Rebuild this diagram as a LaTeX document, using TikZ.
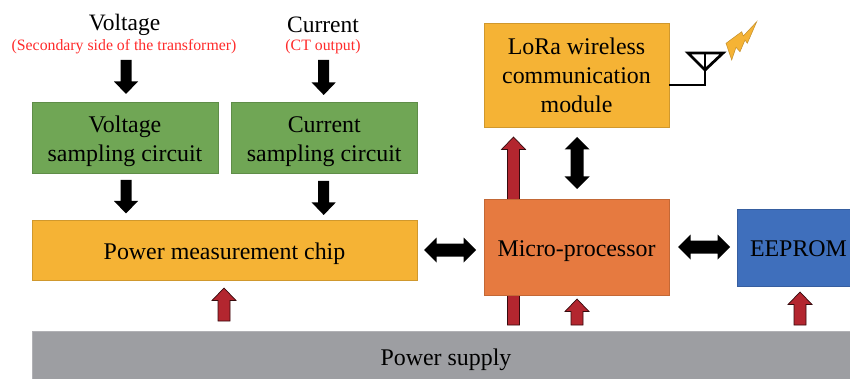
\documentclass[tikz,border=0pt]{standalone}
\usepackage{fontspec}
\setmainfont{Liberation Serif}
\usetikzlibrary{calc}
\definecolor{boxgreen}{HTML}{70A655}
\definecolor{boxgold}{HTML}{F5B335}
\definecolor{boxorange}{HTML}{E67A40}
\definecolor{boxblue}{HTML}{3F6FBC}
\definecolor{boxgrey}{HTML}{9D9EA2}
\definecolor{arrowred}{HTML}{B3262F}
\definecolor{redtext}{HTML}{FF2A2A}
\newcommand{\boxlines}[1]{\raisebox{-3.2pt}[\height][\depth]{\begin{tabular}{@{}c@{}}#1\end{tabular}}}
\tikzset{
  x=1pt,y=-1pt,
  blockbox/.style={draw=#1!85!black,line width=0.6pt,fill=#1,inner sep=0pt,align=center,text=black,
    font=\fontsize{23.9}{29}\selectfont},
  headline/.style={inner sep=0pt,font=\fontsize{23.5}{28}\selectfont},
  subline/.style={inner sep=0pt,text=redtext,font=\fontsize{15.8}{18}\selectfont},
  single block/.style n args={3}{to path={
    ($(\tikztostart)!#1!90:(\tikztotarget)$) --
    ($(\tikztotarget)!#3!(\tikztostart)!#1!-90:(\tikztostart)$) --
    ($(\tikztotarget)!#3!(\tikztostart)!#2!-90:(\tikztostart)$) --
    (\tikztotarget) --
    ($(\tikztotarget)!#3!(\tikztostart)!#2!90:(\tikztostart)$) --
    ($(\tikztotarget)!#3!(\tikztostart)!#1!90:(\tikztostart)$) --
    ($(\tikztostart)!#1!-90:(\tikztotarget)$) -- cycle}},
  double block/.style n args={3}{to path={
    (\tikztostart) --
    ($(\tikztostart)!#3!(\tikztotarget)!#2!90:(\tikztotarget)$) --
    ($(\tikztostart)!#3!(\tikztotarget)!#1!90:(\tikztotarget)$) --
    ($(\tikztotarget)!#3!(\tikztostart)!#1!-90:(\tikztostart)$) --
    ($(\tikztotarget)!#3!(\tikztostart)!#2!-90:(\tikztostart)$) --
    (\tikztotarget) --
    ($(\tikztotarget)!#3!(\tikztostart)!#2!90:(\tikztostart)$) --
    ($(\tikztotarget)!#3!(\tikztostart)!#1!90:(\tikztostart)$) --
    ($(\tikztostart)!#3!(\tikztotarget)!#1!-90:(\tikztotarget)$) --
    ($(\tikztostart)!#3!(\tikztotarget)!#2!-90:(\tikztotarget)$) -- cycle}},
  blackarrow/.style={fill=black,draw=none,single block={5.5pt}{12pt}{12.5pt}},
  blacktwin/.style={fill=black,draw=none,double block={6.5pt}{12.5pt}{12.5pt}},
  redarrow/.style={fill=arrowred,draw=black!70!arrowred,line width=0.7pt,line join=miter,single block={6pt}{12pt}{12.5pt}},
  wire/.style={draw=black,line width=2.8pt}
}
\begin{document}
\begin{tikzpicture}
\useasboundingbox (0,0) rectangle (850,379);
\clip (0,0) rectangle (850,379);
\fill[white] (0,0) rectangle (850,379);
% long power arrow passes behind the processor
\coordinate (loraFeedStart) at (513.5,325);
\coordinate (loraFeedEnd) at (513.5,137);
\draw[redarrow] (loraFeedStart) to (loraFeedEnd);
% boxes
\node[blockbox=boxgreen,minimum width=186pt,minimum height=71pt] (vs) at (125,138) {\boxlines{Voltage\\sampling circuit}};
\node[blockbox=boxgreen,minimum width=185.5pt,minimum height=71pt] (cs) at (324.25,138) {\boxlines{Current\\sampling circuit}};
\node[blockbox=boxgold,minimum width=385pt,minimum height=60pt] (pm) at (224.5,250) {\boxlines{Power measurement chip}};
\node[blockbox=boxorange,minimum width=185pt,minimum height=96pt] (mcu) at (576.5,247) {\boxlines{Micro-processor}};
\node[blockbox=boxgold,minimum width=185pt,minimum height=104pt] (lora) at (576.5,75) {\boxlines{LoRa wireless\\communication\\module}};
\node[blockbox=boxblue,minimum width=123pt,minimum height=77pt] (eeprom) at (798.5,247.5) {\boxlines{EEPROM}};
\node[blockbox=boxgrey,minimum width=828pt,minimum height=50pt,draw=boxgrey!80!white] (psu) at (446,356) {\boxlines{Power supply}};
% input labels
\node[headline] (vlabel) at (124.5,24.5) {Voltage};
\node[subline] (vsub) at (124,47) {(Secondary side of the transformer)};
\node[headline] (clabel) at (323,24.5) {Current};
\node[subline] (csub) at (323,47) {(CT output)};
% anchor points of the block arrows
\coordinate (a1s) at (126,60);   \coordinate (a1e) at (126,94);
\coordinate (a2s) at (323.7,60); \coordinate (a2e) at (323.7,95);
\coordinate (a3s) at (126,180);  \coordinate (a3e) at (126,213.5);
\coordinate (a4s) at (323.7,181);\coordinate (a4e) at (323.7,215);
\coordinate (t1s) at (424,250);  \coordinate (t1e) at (476,250);
\coordinate (t2s) at (678,247);  \coordinate (t2e) at (730,247);
\coordinate (t3s) at (577,137);  \coordinate (t3e) at (577,189);
\coordinate (r1s) at (224,321);  \coordinate (r1e) at (224,288);
\coordinate (r2s) at (577,325);  \coordinate (r2e) at (577,299);
\coordinate (r3s) at (800,325);  \coordinate (r3e) at (800,292);
\draw[blackarrow] (a1s) to (a1e);
\draw[blackarrow] (a2s) to (a2e);
\draw[blackarrow] (a3s) to (a3e);
\draw[blackarrow] (a4s) to (a4e);
\draw[blacktwin] (t1s) to (t1e);
\draw[blacktwin] (t2s) to (t2e);
\draw[blacktwin] (t3s) to (t3e);
\draw[redarrow] (r1s) to (r1e);
\draw[redarrow] (r2s) to (r2e);
\draw[redarrow] (r3s) to (r3e);
% antenna
\coordinate (antFoot) at (705,85);
\coordinate (antTop) at (705,53);
\coordinate (antApex) at (705,70);
\draw[wire,line join=miter] (669,85) -- (antFoot) -- (antTop);
\draw[wire,line join=miter] (688,53) -- (723,53) -- (antApex) -- cycle;
% lightning
\fill[boxgold,draw=boxgold!80!black,line width=0.5pt]
  (726,43.3) -- (741.7,31.7) -- (743.3,36) -- (756.7,21.7) -- (747.3,43.3) -- (745,40)
  -- (740,51.7) -- (736,47.3) -- (731.7,60) -- cycle;
\end{tikzpicture}
\end{document}
